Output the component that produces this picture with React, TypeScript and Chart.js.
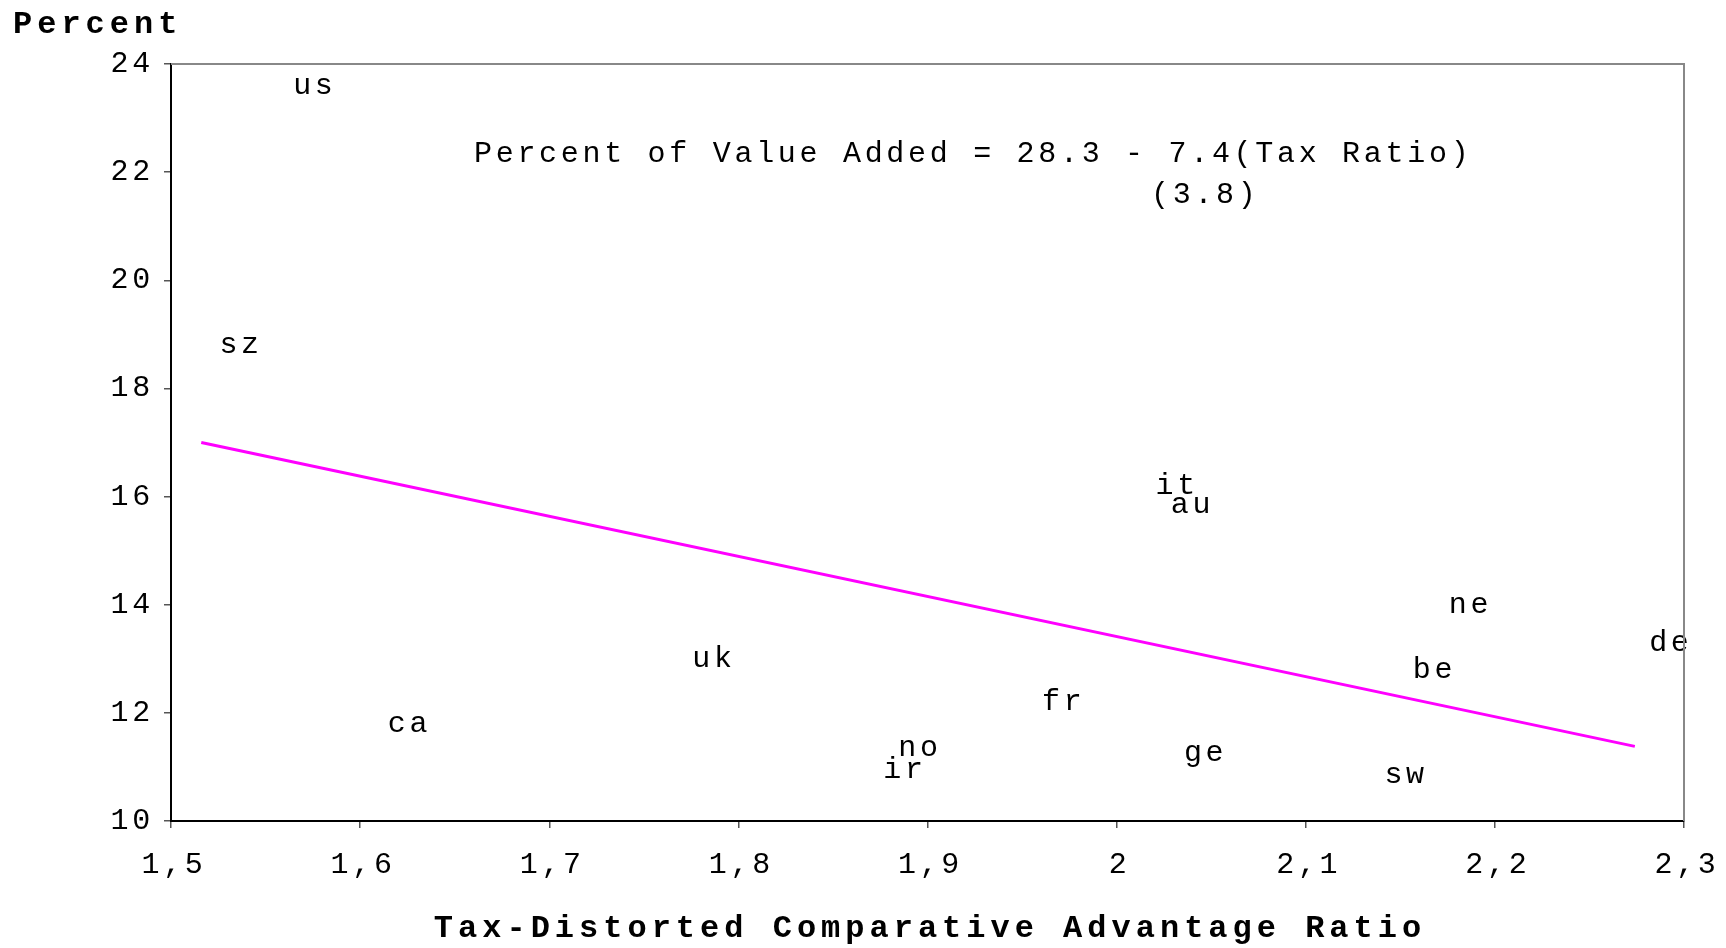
import React, { useEffect, useRef } from 'react';
import { Chart, registerables } from 'chart.js';

Chart.register(...registerables);

const countries = ['us', 'sz', 'it', 'au', 'ne', 'de', 'be', 'uk', 'fr', 'ca', 'no', 'ir', 'ge', 'sw'];
const taxRatio = [1.575, 1.536, 2.031, 2.039, 2.186, 2.292, 2.167, 1.786, 1.971, 1.625, 1.895, 1.887, 2.046, 2.152];
const percentValueAdded = [23.6, 18.8, 16.2, 15.85, 14.0, 13.3, 12.8, 13.0, 12.2, 11.8, 11.35, 10.95, 11.25, 10.85];

const fitX = [1.516, 2.274];
const fitY = [17.0, 11.38];

const xTicks = [1.5, 1.6, 1.7, 1.8, 1.9, 2.0, 2.1, 2.2, 2.3];
const xTickLabels = ['1,5', '1,6', '1,7', '1,8', '1,9', '2', '2,1', '2,2', '2,3'];
const yTicks = [10, 12, 14, 16, 18, 20, 22, 24];

const yTitle = 'Percent';
const xTitle = 'Tax-Distorted Comparative Advantage Ratio';
const equationLine1 = 'Percent of Value Added = 28.3 - 7.4(Tax Ratio)';
const equationLine2 = '(3.8)';

const FONT = "'Liberation Mono', 'Courier New', monospace";
const SPACING = '3.7px';
const TITLE_SPACING = '5px';

export default function App() {
  const ref = useRef<HTMLCanvasElement | null>(null);

  useEffect(() => {
    document.body.style.margin = '0';
    const canvas = ref.current;
    if (!canvas) return;

    const spacingPlugin = {
      id: 'spacing',
      beforeUpdate(chart: any) {
        (chart.ctx as any).letterSpacing = SPACING;
      },
      beforeLayout(chart: any) {
        (chart.ctx as any).letterSpacing = SPACING;
      },
      beforeDraw(chart: any) {
        (chart.ctx as any).letterSpacing = SPACING;
      },
    };

    const textPlugin = {
      id: 'texts',
      afterDraw(chart: any) {
        const ctx = chart.ctx as CanvasRenderingContext2D;
        const area = chart.chartArea;
        ctx.save();
        (ctx as any).letterSpacing = SPACING;
        ctx.fillStyle = '#000';

        // data labels
        const meta = chart.getDatasetMeta(0);
        ctx.font = `30px ${FONT}`;
        ctx.textAlign = 'center';
        ctx.textBaseline = 'middle';
        meta.data.forEach((el: any, i: number) => {
          ctx.fillText(countries[i], el.x + 2, el.y);
        });

        // frame top and right
        ctx.strokeStyle = '#888';
        ctx.lineWidth = 2;
        ctx.beginPath();
        ctx.moveTo(area.left, area.top);
        ctx.lineTo(area.right, area.top);
        ctx.lineTo(area.right, area.bottom);
        ctx.stroke();

        // equation
        ctx.textAlign = 'left';
        ctx.fillText(equationLine1, 474, 154);
        ctx.fillText(equationLine2, 1151, 195);

        // titles
        (ctx as any).letterSpacing = TITLE_SPACING;
        ctx.font = `bold 32px ${FONT}`;
        ctx.textAlign = 'left';
        ctx.fillText(yTitle, 13, 25);
        ctx.textAlign = 'center';
        ctx.fillText(xTitle, 930, 929);
        ctx.restore();
      },
    };

    const chart = new Chart(canvas, {
      type: 'scatter',
      data: {
        datasets: [
          {
            label: 'countries',
            data: taxRatio.map((x, i) => ({ x, y: percentValueAdded[i] })),
            pointRadius: 0,
            pointHoverRadius: 0,
            showLine: false,
          },
          {
            label: 'fit',
            data: fitX.map((x, i) => ({ x, y: fitY[i] })),
            showLine: true,
            borderColor: '#FF00FF',
            borderWidth: 3,
            pointRadius: 0,
            fill: false,
          },
        ],
      },
      options: {
        responsive: false,
        animation: false,
        devicePixelRatio: 1,
        layout: { padding: { left: 0, top: 64, right: 42, bottom: 0 } },
        plugins: {
          legend: { display: false },
          tooltip: { enabled: false },
          title: { display: false },
        },
        scales: {
          x: {
            type: 'linear',
            min: 1.5,
            max: 2.3,
            afterBuildTicks(scale: any) {
              scale.ticks = xTicks.map((v) => ({ value: v }));
            },
            afterFit(scale: any) {
              scale.height = 948 - 821;
              scale.paddingLeft = 0;
              scale.paddingRight = 0;
            },
            ticks: {
              autoSkip: false,
              maxRotation: 0,
              padding: 19,
              labelOffset: 3,
              color: '#000',
              font: { family: FONT, size: 30 },
              callback: (_v: any, i: number) => xTickLabels[i],
            },
            grid: { drawOnChartArea: false, drawTicks: true, tickLength: 7, color: '#555', lineWidth: 1.5 },
            border: { display: true, color: '#000', width: 2 },
          },
          y: {
            type: 'linear',
            min: 10,
            max: 24,
            afterBuildTicks(scale: any) {
              scale.ticks = yTicks.map((v) => ({ value: v }));
            },
            afterFit(scale: any) {
              scale.width = 171;
              scale.paddingTop = 0;
              scale.paddingBottom = 0;
            },
            ticks: {
              autoSkip: false,
              padding: 10,
              color: '#000',
              font: { family: FONT, size: 30 },
              callback: (v: any) => String(v),
            },
            grid: { drawOnChartArea: false, drawTicks: true, tickLength: 7, color: '#555', lineWidth: 1.5 },
            border: { display: true, color: '#000', width: 2 },
          },
        },
      },
      plugins: [spacingPlugin, textPlugin],
    });

    return () => chart.destroy();
  }, []);

  return <canvas ref={ref} width={1726} height={948} style={{ display: 'block', width: 1726, height: 948 }} />;
}
